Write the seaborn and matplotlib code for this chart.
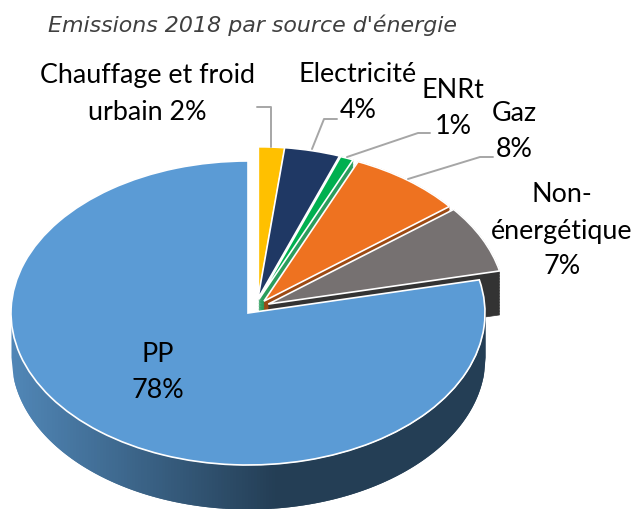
import numpy as np
import seaborn as sns
import matplotlib.pyplot as plt
from matplotlib.patches import Wedge

categories = ["Chauffage et froid", "Electricité", "ENRt", "Gaz", "Non-énergétique", "PP"]
values = [1.8, 3.8, 0.9, 7.8, 7.2, 78.5]
labels = ["Chauffage et froid\nurbain 2%", "Electricité\n4%", "ENRt\n1%", "Gaz\n8%",
          "Non-\nénergétique\n7%", "PP\n78%"]
colors = ["#ffc000", "#1f3864", "#00b050", "#ee7220", "#767171", "#5b9bd5"]
wall_colors = [None, None, "#2a9d5c", "#9c4a14", "#333333", None]
explode = [0.10, 0.09, 0.09, 0.09, 0.09, 0]
# extra shift of the pulled out slices, in pixels
nudge = [(9, -1), (5, 1), (3, 1), (3, 1), (1, 3), (0, 0)]

W, H = 634, 509
CX, CY, RX, RY = 248, 313, 237, 152
DEPTH = 44 / RY

sns.set_theme(style="white")
plt.rcParams["font.family"] = "Lato"

fig = plt.figure(figsize=(W / 100, H / 100), dpi=100)
ax = fig.add_axes([0, 0, 1, 1])

wedges, _ = ax.pie(values, colors=colors, explode=explode, startangle=90, counterclock=False,
                   wedgeprops={"edgecolor": "white", "linewidth": 1.2})

for w, (dx, dy) in zip(wedges, nudge):
    w.set_center((w.center[0] + dx / RX, w.center[1] + dy / RY))

# thickness of the small slices, only the cut faces show
for w, c in zip(wedges, wall_colors):
    if c is None:
        continue
    for d in np.linspace(0, DEPTH, 30):
        ax.add_patch(Wedge((w.center[0], w.center[1] - d), w.r, w.theta1, w.theta2,
                           facecolor=c, edgecolor=c, linewidth=0.5, zorder=0.5))

# rim of the big slice, strips overlap so no seams show
xs = np.linspace(-1, 1, 161)
rim = sns.blend_palette(["#5086b6", "#243e55"], 90) + ["#243e55"] * 70
for i in range(160):
    xb = np.linspace(xs[i], xs[min(i + 2, 160)], 4)
    yb = -np.sqrt(np.clip(1 - xb ** 2, 0, None))
    ax.fill_between(xb, yb, yb - DEPTH, color=rim[i], linewidth=0, zorder=0.4)

ax.set_aspect("auto")
ax.set_xlim(-CX / RX, (W - CX) / RX)
ax.set_ylim((CY - H) / RY, CY / RY)


def fx(x):
    return x / W


def fy(y):
    return 1 - y / H


# leader lines, in pixels of the figure
leaders = [([271, 271, 257], [147, 107, 107]),
           ([312, 324, 337], [149, 119, 119]),
           ([347, 418, 430], [157, 133, 133]),
           ([408, 480, 493], [179, 157, 157])]
for lx, ly in leaders:
    fig.add_artist(plt.Line2D([fx(v) for v in lx], [fy(v) for v in ly],
                              color="#a6a6a6", lw=1.4, transform=fig.transFigure))

label_pos = [(147, 94), (358, 93), (453, 108), (514, 132), (562, 231), (158, 372)]
for (x, y), t in zip(label_pos, labels):
    fig.text(fx(x), fy(y), t, ha="center", va="center", fontsize=19.4, color="black",
             linespacing=1.55)

fig.text(fx(252), fy(25), "Emissions 2018 par source d'énergie", ha="center", va="center",
         fontsize=15.9, style="italic", color="#404040", family="DejaVu Sans")

fig.savefig("out.png", dpi=100)
